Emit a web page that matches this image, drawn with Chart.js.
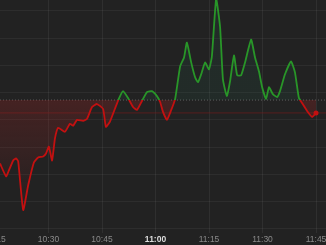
<!DOCTYPE html>
<html><head><meta charset="utf-8">
<script src="https://cdn.jsdelivr.net/npm/chart.js@4/dist/chart.umd.min.js"></script>
<style>html,body{margin:0;padding:0;background:#222;overflow:hidden}
#wrap{position:relative;width:326px;height:245px}</style></head>
<body><div id="wrap"><canvas id="c" width="326" height="245"></canvas></div>
<script>
// minutes after 10:00
const times = [16.4,18.1,18.9,20.1,20.9,21.5,22.9,24.3,25.9,27.1,28.5,29.3,30.1,31.0,31.8,32.7,34.6,36.0,36.9,38.0,39.7,40.8,42.2,43.6,45.3,46.1,47.2,48.6,49.8,50.9,52.3,53.7,54.8,56.2,57.6,59.0,60.4,61.3,62.1,63.2,64.3,65.5,66.9,68.0,68.8,70.0,71.1,71.9,72.8,73.9,75.0,75.8,77.0,78.1,78.9,80.0,80.9,82.0,82.9,84.0,85.1,86.8,87.9,89.0,89.9,91.0,91.8,92.9,94.1,94.9,96.3,98.0,99.1,100.2,101.1,102.5,103.9,105.0];
const prices = [99.36,99.23,99.29,99.39,99.41,99.38,98.89,99.14,99.37,99.42,99.43,99.46,99.53,99.39,99.61,99.72,99.68,99.76,99.74,99.80,99.79,99.81,99.93,99.96,99.91,99.73,99.78,99.91,100.02,100.09,100.02,99.93,99.90,99.99,100.08,100.09,100.04,99.98,99.88,99.80,99.89,100.01,100.34,100.43,100.58,100.38,100.23,100.18,100.26,100.38,100.31,100.44,101.02,100.74,100.21,100.04,100.19,100.45,100.25,100.25,100.38,100.61,100.43,100.29,100.13,100.01,100.13,100.06,100.03,100.09,100.26,100.39,100.28,100.02,99.97,99.89,99.83,99.87];
const prevClose = 100.00;
const xTickMinutes = [15,30,45,60,75,90,105];
const yGridLevels = [100.90,100.625,100.35,100.075,99.80,99.525,99.25,98.975,98.70];

const X_MIN = 16.4, X_MAX = 107.8, Y_MIN = 98.66, Y_MAX = 101.01;
const lastPrice = prices[prices.length-1];
const GREEN = 'rgb(40,150,40)', RED = 'rgb(195,16,16)';

function baseFrac(chart){
  const a = chart.chartArea;
  const y0 = chart.scales.y.getPixelForValue(prevClose);
  return Math.min(1, Math.max(0, (y0 - a.top) / (a.bottom - a.top)));
}
function lineGrad(ctx){
  const chart = ctx.chart; const a = chart.chartArea;
  if (!a) return GREEN;
  const f = baseFrac(chart);
  const g = chart.ctx.createLinearGradient(0, a.top, 0, a.bottom);
  g.addColorStop(0, GREEN); g.addColorStop(f, GREEN);
  g.addColorStop(f, RED); g.addColorStop(1, RED);
  return g;
}
function fillGrad(ctx){
  const chart = ctx.chart; const a = chart.chartArea;
  if (!a) return 'rgba(0,0,0,0)';
  const f = baseFrac(chart);
  const g = chart.ctx.createLinearGradient(0, a.top, 0, a.bottom);
  g.addColorStop(0, 'rgba(40,130,100,0.10)');
  g.addColorStop(f, 'rgba(40,130,100,0.10)');
  g.addColorStop(f, 'rgba(150,35,35,0.30)');
  g.addColorStop(Math.min(1, f + 0.5), 'rgba(150,35,35,0.0)');
  g.addColorStop(1, 'rgba(150,35,35,0.0)');
  return g;
}
function fmt(m){ const h = 10 + Math.floor(m/60); const mm = Math.round(m%60); return h + ':' + String(mm).padStart(2,'0'); }

const mainData = times.map((t,i)=>({x:t, y:prices[i]}));
new Chart(document.getElementById('c'), {
  type: 'line',
  data: { datasets: [
    { data: mainData, borderColor: lineGrad, backgroundColor: fillGrad, fill: {value: prevClose},
      borderWidth: 1.8, tension: 0.15,
      pointRadius: c => c.dataIndex === prices.length-1 ? 2.5 : 0,
      pointBackgroundColor: RED, pointBorderWidth: 0, order: 0 },
    { data: [{x:X_MIN, y:lastPrice},{x:X_MAX, y:lastPrice}], borderColor: 'rgba(130,25,25,0.55)', borderWidth: 1,
      pointRadius: 0, fill: false, order: 1 },
    { data: [{x:X_MIN, y:prevClose},{x:X_MAX, y:prevClose}], borderColor: 'rgba(110,110,110,0.8)', borderWidth: 1,
      borderDash: [1,2], pointRadius: 0, fill: false, order: 2 }
  ]},
  options: {
    responsive: false, animation: false, devicePixelRatio: 1,
    layout: { padding: { left: 0, right: 0, top: 0, bottom: -2 }, autoPadding: false },
    plugins: { legend: {display:false}, tooltip: {enabled:false} },
    scales: {
      x: { type: 'linear', min: X_MIN, max: X_MAX,
        afterBuildTicks: s => { s.ticks = xTickMinutes.map(v=>({value:v})); },
        afterFit: s => { s.paddingLeft = 0; s.paddingRight = 0; },
        grid: { color: 'rgba(255,255,255,0.06)', drawTicks: false },
        border: { display: false },
        ticks: { autoSkip: false, maxRotation: 0, padding: 2,
          callback: v => fmt(v),
          color: c => c.tick && c.tick.value === 60 ? '#dddddd' : '#8a8a8a',
          font: c => ({ family: 'Liberation Sans, Arial, sans-serif', size: 8.5, weight: (c.tick && c.tick.value === 60) ? 'bold' : 'normal' }) } },
      y: { min: Y_MIN, max: Y_MAX,
        afterBuildTicks: s => { s.ticks = yGridLevels.map(v=>({value:v})); },
        grid: { color: 'rgba(255,255,255,0.05)', drawTicks: false },
        border: { display: false },
        ticks: { display: false } }
    }
  }
});
</script></body></html>
